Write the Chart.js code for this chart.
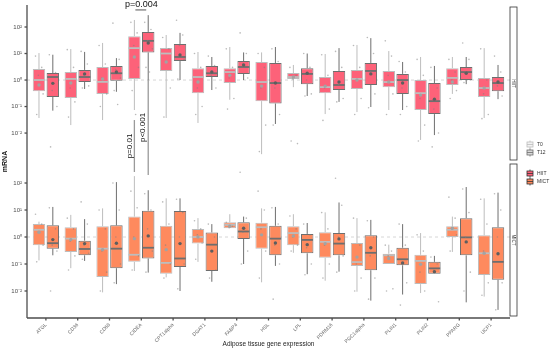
<!DOCTYPE html>
<html>
<head>
<meta charset="utf-8">
<script src="https://cdn.jsdelivr.net/npm/chart.js@4.4.1/dist/chart.umd.min.js"></script>
<style>
  html, body { margin: 0; padding: 0; background: #fff; }
  #wrap { width: 550px; height: 350px; }
</style>
</head>
<body>
<div id="wrap"><canvas id="grafico" width="550" height="350"></canvas></div>
<script>
// genes no eixo x
const genes = ['ATGL', 'CD36', 'CD68', 'CIDEA', 'CPT1alpha', 'DGAT1', 'FABP4', 'HSL',
  'LPL', 'PDRM16', 'PGC1alpha', 'PLIN1', 'PLIN2', 'PPARG', 'UCP1'];

// ticks do eixo y (log)
const yTicks = [0.01, 0.1, 1, 10, 100];
const yTickLabels = ['10⁻²', '10⁻¹', '10⁰', '10¹', '10²'];

// cada caixa: [min bigode, q1, mediana, q3, max bigode, media]
const hiitT0 = [
  [0.037, 0.38, 1.0, 2.6, 10.4, 0.65],
  [0.02, 0.21, 1.1, 2.0, 14.7, 0.77],
  [0.031, 0.3, 0.85, 3.1, 25, 1.1],
  [0.074, 1.1, 16, 45, 184, 7.4],
  [0.037, 2.2, 10, 16, 50, 4.8],
  [0.024, 0.32, 1.3, 2.8, 11.4, 0.84],
  [0.18, 0.77, 2.0, 2.8, 17.6, 1.5],
  [0.0016, 0.16, 0.84, 4.8, 11, 0.59],
  [0.54, 1.1, 1.3, 1.84, 3.7, 1.3],
  [0.052, 0.32, 0.54, 1.3, 9.6, 0.59],
  [0.062, 0.46, 1.1, 2.4, 21, 1.0],
  [0.074, 0.54, 0.84, 2.2, 12.4, 0.84],
  [0.0055, 0.074, 0.32, 1.0, 7.4, 0.27],
  [0.3, 0.65, 1.2, 2.8, 7.4, 0.84],
  [0.037, 0.23, 0.5, 1.2, 16, 0.5]
];
const hiitT12 = [
  [0.07, 0.23, 1.3, 1.84, 9, 0.75],
  [0.46, 0.84, 1.3, 2.4, 11.5, 1.7],
  [0.36, 0.93, 1.8, 3.4, 6.7, 2.0],
  [1.0, 11, 30, 65, 280, 25],
  [1.0, 5.2, 7.4, 23, 60, 8.8],
  [0.42, 1.3, 1.8, 3.4, 7.4, 2.0],
  [1.0, 1.7, 3.1, 5.2, 11, 3.7],
  [0.022, 0.13, 0.77, 4.4, 17.6, 0.77],
  [0.25, 0.7, 1.7, 2.8, 10, 1.8],
  [0.15, 0.42, 0.65, 2.2, 16, 0.84],
  [0.096, 0.65, 2.2, 4.4, 38, 1.7],
  [0.074, 0.3, 1.0, 1.7, 4.8, 0.77],
  [0.0084, 0.052, 0.16, 0.77, 3.4, 0.19],
  [0.7, 1.0, 2.0, 3.1, 7.4, 1.8],
  [0.19, 0.38, 0.77, 1.3, 3.7, 0.84]
];
const mictT0 = [
  [0.136, 0.5, 1.85, 3.0, 3.7, 1.5],
  [0.07, 0.28, 0.87, 2.3, 6.6, 0.8],
  [0.0089, 0.033, 0.37, 2.5, 11.5, 0.34],
  [0.055, 0.12, 0.22, 5.7, 180, 0.87],
  [0.032, 0.044, 0.11, 2.6, 27, 0.34],
  [0.12, 0.57, 1.0, 2.0, 5, 1.0],
  [2.1, 2.1, 2.8, 3.5, 7, 2.5],
  [0.021, 0.37, 2.3, 3.4, 11.5, 1.2],
  [0.26, 0.5, 1.4, 2.5, 7, 1.1],
  [0.024, 0.17, 0.66, 1.5, 8.2, 0.57],
  [0.0094, 0.084, 0.118, 0.6, 5, 0.18],
  [0.1, 0.1, 0.21, 0.24, 0.52, 0.16],
  [0.0084, 0.018, 0.13, 0.22, 1.4, 0.097],
  [0.28, 1.0, 1.85, 2.5, 5.7, 2.1],
  [0.0062, 0.039, 0.25, 1.15, 27, 0.25]
];
const mictT12 = [
  [0.21, 0.37, 0.59, 2.7, 13, 0.8],
  [0.13, 0.21, 0.36, 0.73, 4.6, 0.57],
  [0.018, 0.07, 0.37, 2.7, 108, 0.59],
  [0.048, 0.16, 0.4, 9.4, 54, 1.1],
  [0.01, 0.078, 0.16, 9.2, 27, 0.57],
  [0.022, 0.055, 0.52, 1.48, 3, 0.3],
  [0.1, 0.85, 1.6, 3.5, 5.7, 2.1],
  [0.085, 0.21, 0.87, 2.6, 13, 0.6],
  [0.042, 0.25, 0.78, 1.3, 3.3, 0.52],
  [0.052, 0.21, 0.57, 1.4, 19, 0.85],
  [0.0044, 0.059, 0.26, 1.15, 4.3, 0.4],
  [0.0074, 0.09, 0.15, 0.4, 3, 0.11],
  [0.044, 0.044, 0.069, 0.12, 0.2, 0.052],
  [0.0038, 0.21, 0.97, 5, 71, 0.66],
  [0.002, 0.026, 0.12, 2.3, 44, 0.24]
];

// pontos individuais (lidos aproximadamente)
const hiitT0Pts = [
  [8, 3, 1.5, 0.3, 0.05], [14, 3, 0.5, 0.15, 0.04], [20, 4, 1.2, 0.3, 0.1],
  [150, 60, 20, 3, 0.4, 0.05], [40, 15, 5, 0.5, 0.04], [10, 3, 0.5, 0.1, 0.05],
  [15, 3, 1.2, 0.2, 0.08], [10, 3, 0.5, 0.02, 0.002], [3, 1.5, 1.1, 0.004, 0.005],
  [9, 1.5, 0.5, 0.08, 0.03], [20, 3, 1, 0.2, 0.05], [30, 8, 1.5, 0.3, 0.05],
  [6, 1.5, 0.2, 0.02, 0.005], [6, 2, 1, 0.4, 0.2], [15, 1, 0.3, 0.05, 0.035]
];
const hiitT12Pts = [
  [9, 1.9, 0.4, 0.1, 0.003], [12, 4, 1.5, 0.6, 0.5], [140, 6, 2.5, 1.2, 0.4, 0.12],
  [150, 80, 30, 15, 3, 2], [180, 50, 20, 6, 1.1], [8, 3.5, 1.5, 0.5],
  [60, 10, 4, 1.2], [15, 5, 0.5, 0.05, 0.02], [10, 3, 1, 0.3, 0.25],
  [12, 3, 0.7, 0.2, 0.15], [40, 10, 2, 0.3, 0.09], [5, 2, 0.5, 0.1, 0.05],
  [3, 0.5, 0.08, 0.01, 0.003], [25, 6, 2, 1.0, 0.8], [8, 2, 0.6, 0.25]
];
const mictT0Pts = [
  [7, 3, 1.5, 0.5, 0.12], [5, 2, 0.7, 0.2, 0.06], [10, 2, 0.3, 0.05, 0.01],
  [50, 12, 1, 0.2, 0.06], [20, 3, 0.5, 0.1, 0.03], [4, 2, 1.2, 0.6, 0.15],
  [3.5, 2.5, 2.2], [50, 10, 2, 0.3, 0.03], [6, 2, 1, 0.5, 0.3],
  [8, 2, 0.5, 0.1, 0.03], [5, 0.5, 0.1, 0.03, 0.01], [0.5, 0.3, 0.2, 0.012, 0.01],
  [1.2, 0.3, 0.05, 0.01], [30, 5, 2, 1.2, 0.3], [25, 3, 0.3, 0.02, 0.007]
];
const mictT12Pts = [
  [12, 2, 0.5, 0.3, 0.01], [20, 3, 0.5, 0.25, 0.15], [100, 10, 1, 0.1, 0.02],
  [40, 10, 2, 0.3, 0.05], [25, 8, 1, 0.1, 0.012], [3, 1, 0.3, 0.06, 0.03],
  [250, 5, 1.5, 0.3, 0.1], [12, 3, 0.5, 0.1, 0.005], [3, 1.2, 0.4, 0.1, 0.04],
  [150, 15, 1, 0.2, 0.05], [4, 1, 0.2, 0.03, 0.005], [3, 0.5, 0.1, 0.02, 0.003],
  [0.18, 0.1, 0.06, 0.004], [60, 8, 1, 0.05, 0.01], [40, 10, 1, 0.02, 0.002]
];

// anotações CIDEA (valores em mRNA)
const pBracket = { text: 'p=0.004', level: 440 };
const pLineT0 = { text: 'p=0.01', fromTop: 0.031, toBottom: 256 };
const pLineT12 = { text: 'p<0.001', fromTop: 1.0, toBottom: 200 };

const corHIIT = '#FD6279';
const corMICT = '#FE8A5E';
const bordaT0 = '#BDBDBD';
const bordaT12 = '#6E6E6E';
const jitter = [-0.28, 0.22, -0.05, 0.33, -0.18, 0.1, 0.38];

Chart.defaults.font.family = "'Liberation Sans', Arial, sans-serif";

function linha(ctx, x1, y1, x2, y2) {
  ctx.beginPath();
  ctx.moveTo(x1, y1);
  ctx.lineTo(x2, y2);
  ctx.stroke();
}

function chave(ctx, x, y, fill, stroke, texto) {
  ctx.strokeStyle = stroke;
  ctx.lineWidth = 0.8;
  linha(ctx, x + 3, y - 1.5, x + 3, y + 6.5);
  ctx.fillStyle = fill;
  ctx.fillRect(x, y, 6, 5);
  ctx.strokeRect(x, y, 6, 5);
  linha(ctx, x, y + 2.5, x + 6, y + 2.5);
  ctx.fillStyle = '#333';
  ctx.font = "5px 'Liberation Sans', Arial, sans-serif";
  ctx.textAlign = 'left';
  ctx.textBaseline = 'middle';
  ctx.fillText(texto, x + 10, y + 2.5);
}

const caixasPlugin = {
  id: 'caixas',
  beforeDatasetsDraw(chart) {
    const ctx = chart.ctx, a = chart.chartArea;
    ctx.save();
    ctx.strokeStyle = '#cccccc';
    ctx.lineWidth = 0.8;
    ctx.setLineDash([3, 3]);
    ['yH', 'yM'].forEach(id => {
      const py = chart.scales[id].getPixelForValue(1);
      linha(ctx, a.left - 3, py, a.right + 3, py);
    });
    ctx.restore();
  },
  afterDatasetsDraw(chart) {
    const ctx = chart.ctx;
    ctx.save();
    chart.data.datasets.forEach((ds, di) => {
      const meta = chart.getDatasetMeta(di);
      const ys = chart.scales[ds.yAxisID];
      meta.data.forEach((bar, i) => {
        const [lo, q1, med, q3, hi, media] = ds.stats[i];
        const x = bar.x, w = bar.width;
        ctx.strokeStyle = ds.borderColor;
        ctx.lineWidth = 1;
        linha(ctx, x, ys.getPixelForValue(q3), x, ys.getPixelForValue(hi));
        linha(ctx, x, ys.getPixelForValue(q1), x, ys.getPixelForValue(lo));
        ctx.lineWidth = 1.8;
        const pm = ys.getPixelForValue(med);
        linha(ctx, x - w / 2 + 0.5, pm, x + w / 2 - 0.5, pm);
        ctx.fillStyle = 'rgba(130,130,130,0.55)';
        ds.pts[i].forEach((v, k) => {
          ctx.beginPath();
          ctx.arc(x + jitter[k % jitter.length] * w, ys.getPixelForValue(v), 0.8, 0, Math.PI * 2);
          ctx.fill();
        });
        ctx.fillStyle = ds.stack === 'T0' ? '#a3a3a3' : '#5e5e5e';
        ctx.beginPath();
        ctx.arc(x, ys.getPixelForValue(media), 1.7, 0, Math.PI * 2);
        ctx.fill();
      });
    });
    ctx.restore();
  },
  afterDraw(chart) {
    const ctx = chart.ctx, a = chart.chartArea;
    const sx = chart.scales.x, yH = chart.scales.yH, yM = chart.scales.yM;
    const axL = a.left - 3, axR = a.right + 3;
    ctx.save();

    // eixos
    ctx.strokeStyle = '#4d4d4d';
    ctx.lineWidth = 1.3;
    [yH, yM].forEach(s => {
      linha(ctx, axL, s.top, axL, s.bottom);
      yTicks.forEach(v => {
        const py = s.getPixelForValue(v);
        linha(ctx, axL - 2.5, py, axL, py);
      });
    });
    linha(ctx, axL, a.bottom, axR, a.bottom);
    genes.forEach((g, i) => {
      const px = sx.getPixelForValue(i);
      linha(ctx, px, a.bottom, px, a.bottom + 2.5);
    });

    // faixas laterais
    ctx.lineWidth = 0.8;
    ctx.strokeStyle = '#333';
    ctx.font = "4.5px 'Liberation Sans', Arial, sans-serif";
    [[yH, 'HIIT'], [yM, 'MICT']].forEach(([s, t]) => {
      ctx.fillStyle = '#fff';
      ctx.fillRect(axR, s.top + 2, 7, s.bottom - s.top - 4);
      ctx.strokeRect(axR, s.top + 2, 7, s.bottom - s.top - 4);
      ctx.save();
      ctx.translate(axR + 3.5, (s.top + s.bottom) / 2);
      ctx.rotate(Math.PI / 2);
      ctx.fillStyle = '#333';
      ctx.textAlign = 'center';
      ctx.textBaseline = 'middle';
      ctx.fillText(t, 0, 0);
      ctx.restore();
    });

    // legendas
    chave(ctx, 527, 142, '#f2f2f2', bordaT0, 'T0');
    chave(ctx, 527, 150, '#d9d9d9', bordaT12, 'T12');
    chave(ctx, 527, 171, corHIIT, '#333', 'HIIT');
    chave(ctx, 527, 179, corMICT, '#333', 'MICT');

    // titulos dos eixos
    ctx.fillStyle = '#111';
    ctx.font = "bold 7px 'Liberation Sans', Arial, sans-serif";
    ctx.textAlign = 'center';
    ctx.textBaseline = 'middle';
    ctx.save();
    ctx.translate(5, (a.top + a.bottom) / 2);
    ctx.rotate(-Math.PI / 2);
    ctx.fillText('mRNA', 0, 0);
    ctx.restore();
    ctx.font = "6.5px 'Liberation Sans', Arial, sans-serif";
    ctx.fillStyle = '#222';
    ctx.fillText('Adipose tissue gene expression', (a.left + a.right) / 2, 344);

    // anotacoes de p
    const ci = genes.indexOf('CIDEA');
    const b0 = chart.getDatasetMeta(0).data[ci];
    const b1 = chart.getDatasetMeta(1).data[ci];
    ctx.strokeStyle = '#555';
    ctx.lineWidth = 1;
    const py = yH.getPixelForValue(pBracket.level);
    linha(ctx, b0.x + 1, py, b1.x - 2, py);
    ctx.fillStyle = '#111';
    ctx.font = "9px 'Liberation Sans', Arial, sans-serif";
    ctx.fillText(pBracket.text, (b0.x + b1.x) / 2, py - 5);

    ctx.strokeStyle = '#9a9a9a';
    ctx.lineWidth = 1.3;
    ctx.font = "8px 'Liberation Sans', Arial, sans-serif";
    [[b0, pLineT0], [b1, pLineT12]].forEach(([b, p]) => {
      const y1 = yH.getPixelForValue(p.fromTop);
      const y2 = yM.getPixelForValue(p.toBottom);
      linha(ctx, b.x, y1, b.x, y2);
      ctx.save();
      ctx.translate(b.x - 5, (y1 + y2) / 2);
      ctx.rotate(-Math.PI / 2);
      ctx.fillText(p.text, 0, 0);
      ctx.restore();
    });
    ctx.restore();
  }
};

function eixoY(min, max, peso) {
  return {
    type: 'logarithmic',
    position: 'left',
    stack: 'paineis',
    stackWeight: peso,
    stacked: false,
    min: min,
    max: max,
    grid: { display: false, drawTicks: false },
    border: { display: false },
    afterBuildTicks: s => { s.ticks = yTicks.map(v => ({ value: v })); },
    afterFit: s => { s.width = 30; s.paddingTop = 0; s.paddingBottom = 0; },
    ticks: {
      autoSkip: false,
      padding: 8,
      color: '#4d4d4d',
      font: { size: 6 },
      callback: v => yTickLabels[yTicks.indexOf(v)]
    }
  };
}

new Chart(document.getElementById('grafico'), {
  type: 'bar',
  data: {
    labels: genes,
    datasets: [
      { label: 'HIIT T0', data: hiitT0.map(b => [b[1], b[3]]), stats: hiitT0, pts: hiitT0Pts,
        yAxisID: 'yH', stack: 'T0', backgroundColor: corHIIT, borderColor: bordaT0 },
      { label: 'HIIT T12', data: hiitT12.map(b => [b[1], b[3]]), stats: hiitT12, pts: hiitT12Pts,
        yAxisID: 'yH', stack: 'T12', backgroundColor: corHIIT, borderColor: bordaT12 },
      { label: 'MICT T0', data: mictT0.map(b => [b[1], b[3]]), stats: mictT0, pts: mictT0Pts,
        yAxisID: 'yM', stack: 'T0', backgroundColor: corMICT, borderColor: bordaT0 },
      { label: 'MICT T12', data: mictT12.map(b => [b[1], b[3]]), stats: mictT12, pts: mictT12Pts,
        yAxisID: 'yM', stack: 'T12', backgroundColor: corMICT, borderColor: bordaT12 }
    ]
  },
  options: {
    responsive: false,
    animation: false,
    layout: { padding: { top: 5, right: 43, left: 0, bottom: 0 } },
    datasets: {
      bar: { categoryPercentage: 0.87, barPercentage: 0.9, borderWidth: 1, borderSkipped: false }
    },
    plugins: { legend: { display: false }, tooltip: { enabled: false } },
    scales: {
      x: {
        type: 'category',
        grid: { display: false, drawTicks: false },
        border: { display: false },
        afterFit: s => { s.height = 32; s.paddingLeft = 0; s.paddingRight = 0; },
        ticks: { autoSkip: false, minRotation: 45, maxRotation: 45, padding: 4, color: '#666', font: { size: 5 } }
      },
      yM: eixoY(0.001, 600, 156),
      yH: eixoY(0.00081, 676, 157)
    }
  },
  plugins: [caixasPlugin]
});
</script>
</body>
</html>
